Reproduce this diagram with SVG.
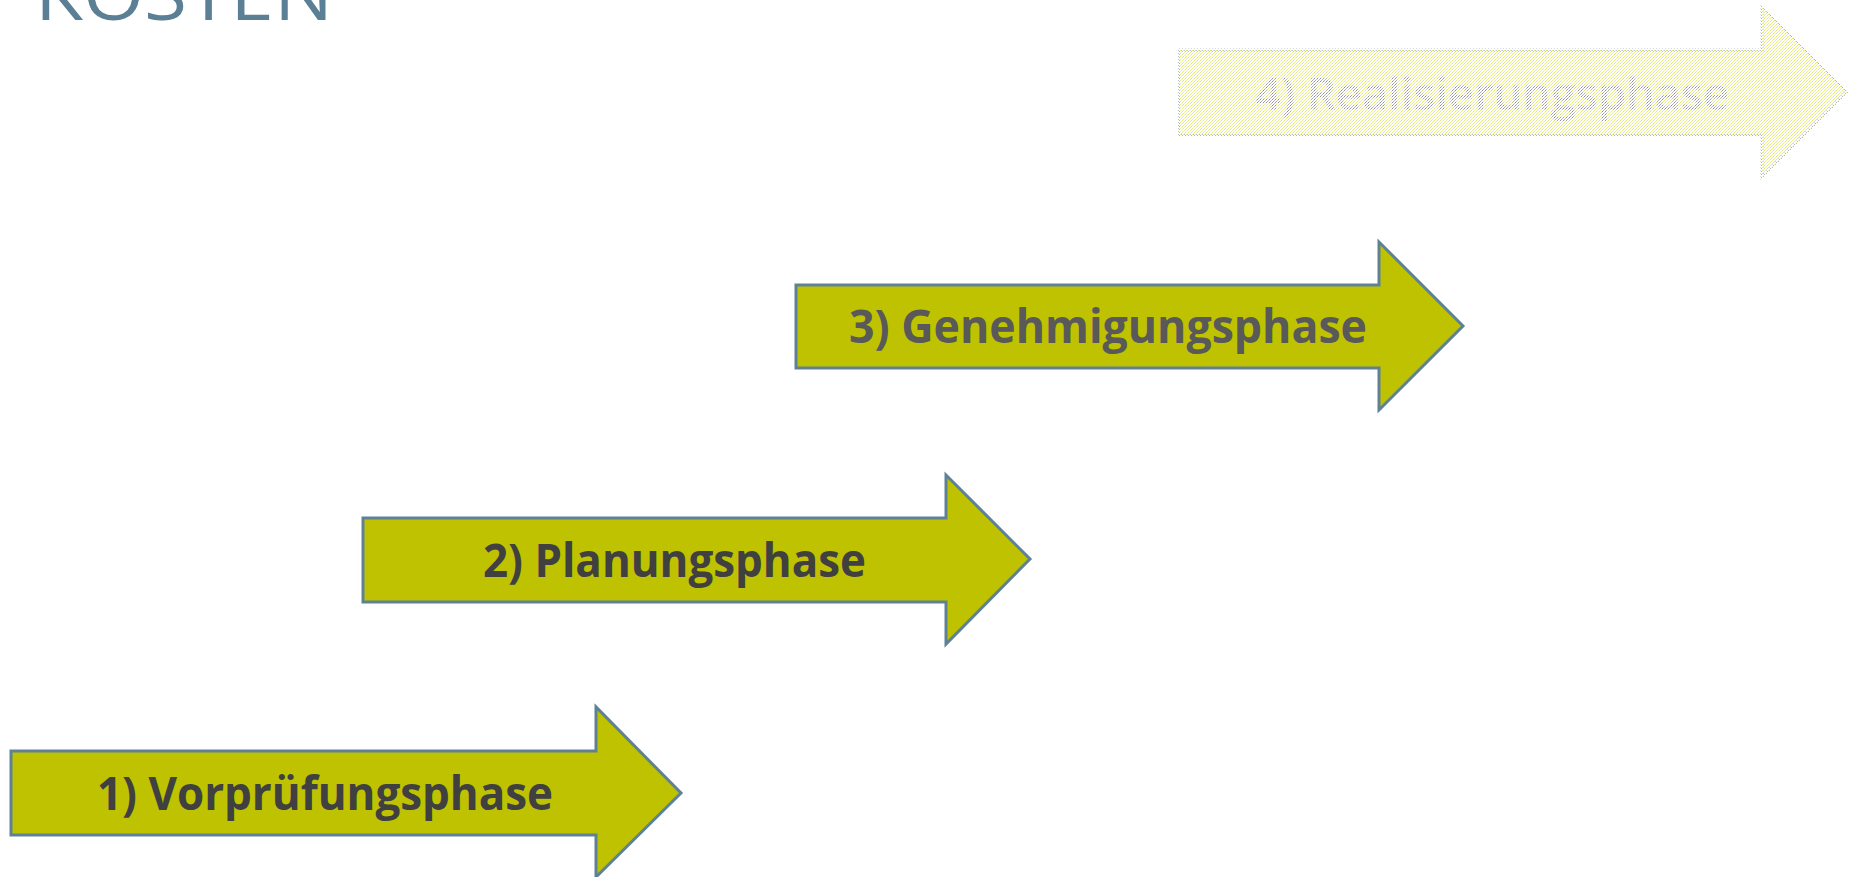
<svg xmlns="http://www.w3.org/2000/svg" width="1854" height="877" viewBox="0 0 1854 877">
<style>
.arrow{fill:#bec200;stroke:#5f8196;stroke-width:3;stroke-linejoin:miter}
.lbl{font-family:"Open Sans","Liberation Sans",sans-serif;font-weight:700;font-size:46px;fill:#404040}
.title{font-family:"Open Sans","Liberation Sans",sans-serif;font-weight:400;font-size:72px;fill:#5b7f95}
</style>
<defs>
<pattern id="dotY" width="3" height="3" patternUnits="userSpaceOnUse">
<rect x="0" y="0" width="1" height="1" fill="#e3e67a"/>
<rect x="2" y="1" width="1" height="1" fill="#eef08f"/>
<rect x="1" y="2" width="1" height="1" fill="#e8eb86"/>
</pattern>
<pattern id="dotB" width="3" height="3" patternUnits="userSpaceOnUse">
<rect x="0" y="0" width="1" height="1" fill="#a8b6c8"/>
<rect x="2" y="2" width="1" height="1" fill="#b8c4d4"/>
</pattern>
<pattern id="dotG" width="3" height="3" patternUnits="userSpaceOnUse">
<rect x="0" y="0" width="1" height="1" fill="#8e8e98"/>
<rect x="1" y="2" width="1" height="1" fill="#a8a8b0"/>
<rect x="2" y="1" width="1" height="1" fill="#b8b8c0"/>
</pattern>
</defs>
<g id="title">
<text class="title" x="35" y="20" textLength="298" lengthAdjust="spacingAndGlyphs">KOSTEN</text>
</g>
<g id="node4">
<polygon points="1179,50 1762,50 1762,7 1847,92 1762,177 1762,135 1179,135" fill="url(#dotY)" stroke="url(#dotB)" stroke-width="3"/>
<text class="lbl" x="1255" y="110" textLength="474" lengthAdjust="spacingAndGlyphs" style="fill:url(#dotG);font-weight:600">4) Realisierungsphase</text>
</g>
<g id="node3">
<polygon class="arrow" points="796,285 1379,285 1379,242 1463,326 1379,410 1379,368 796,368"/>
<text class="lbl" x="849" y="343" textLength="518" lengthAdjust="spacingAndGlyphs" style="fill:#595959">3) Genehmigungsphase</text>
</g>
<g id="node2">
<polygon class="arrow" points="363,518 946,518 946,475 1030,559 946,644 946,602 363,602"/>
<text class="lbl" x="483" y="577" textLength="383" lengthAdjust="spacingAndGlyphs">2) Planungsphase</text>
</g>
<g id="node1">
<polygon class="arrow" points="11,751 596,751 596,707 681,793 596,877 596,835 11,835"/>
<text class="lbl" x="97" y="810" textLength="456" lengthAdjust="spacingAndGlyphs">1) Vorprüfungsphase</text>
</g>
<g id="connectors"></g>
</svg>
